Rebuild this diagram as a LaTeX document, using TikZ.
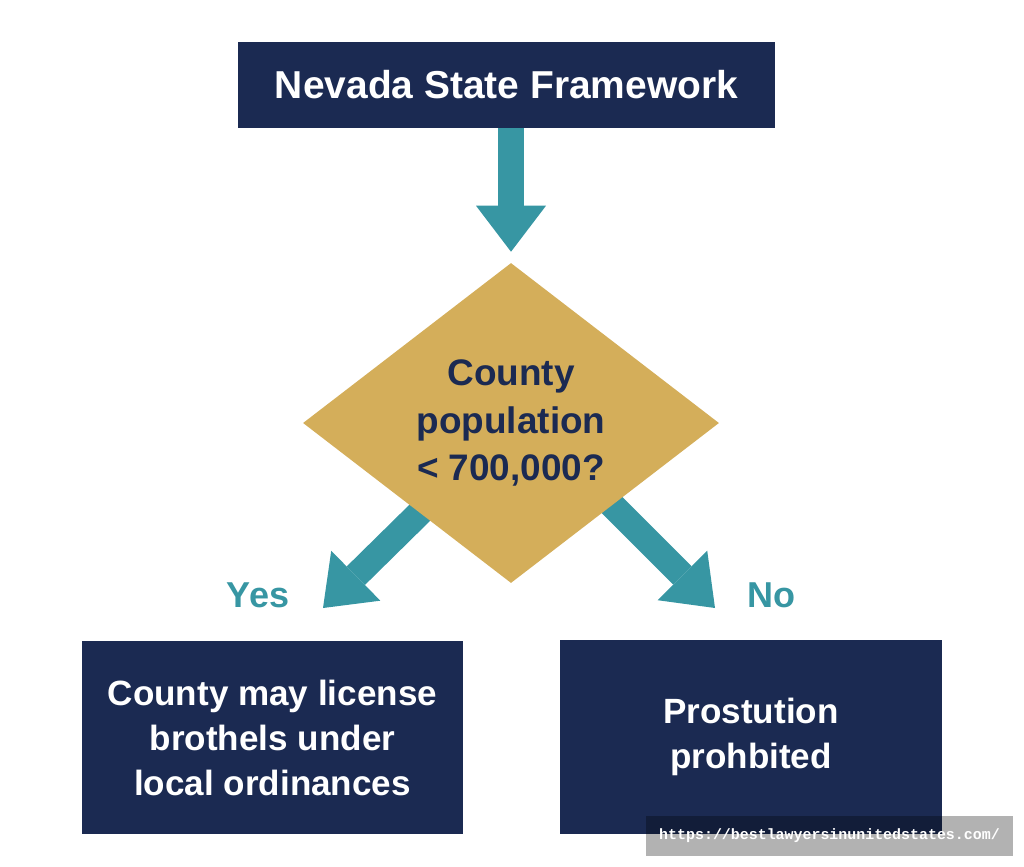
\documentclass[tikz,border=0pt]{standalone}
\usepackage{fontspec}
\setmainfont{Liberation Sans}
\newfontfamily\wmfont{Liberation Mono}
\usetikzlibrary{arrows.meta,shapes.geometric,backgrounds}
\definecolor{boxnavy}{HTML}{1B2A52}
\definecolor{flowteal}{HTML}{3796A3}
\definecolor{diagold}{HTML}{D4AE5A}
\tikzset{
	navybox/.style={fill=boxnavy, text=white, inner sep=0pt, align=center, font=\bfseries\fontsize{26.3}{33.75}\selectfont},
	flow/.style={draw=flowteal, line width=19.5pt, -{Triangle[width=52.5pt,length=34.5pt,line width=0pt]}},
	answer/.style={text=flowteal, inner sep=0pt, font=\bfseries\fontsize{27}{32}\selectfont}
}

\begin{document}
\begin{tikzpicture}[x=0.75pt,y=-0.75pt]
			%%%%% START %%%%%
			\useasboundingbox (0,0) rectangle (1024,867);
			
			\node[navybox, minimum width=402.75pt, minimum height=64.5pt, font=\bfseries\fontsize{29.2}{35}\selectfont] (frame) at (506.5,85) {Nevada State Framework};
			
			\node[diamond, aspect=1.3, fill=diagold, text=boxnavy, inner sep=0pt, minimum width=312pt, minimum height=240pt, align=center, font=\bfseries\fontsize{27.7}{35.6}\selectfont] (decide) at (511,423) {County\\population\\< 700,000?};
			
			\node[navybox, minimum width=285.75pt, minimum height=144.75pt] (yesbox) at (272.5,737.5) {County may license\\brothels under\\local ordinances};
			\node[navybox, minimum width=286.5pt, minimum height=145.5pt] (nobox) at (751,737) {Prostution\\prohbited};
			
			\node[answer] (yeslabel) at (258,595) {Yes};
			\node[answer] (nolabel) at (771,595) {No};
			
			\coordinate (yestip) at (323,608);
			\coordinate (notip) at (715,608);
			
			\begin{scope}[on background layer]
			\draw[flow, shorten >=8.25pt] (frame.south -| decide.north) -- (decide.north);
			\draw[flow] (decide.center) -- (yestip);
			\draw[flow] ([yshift=14.25pt]decide.center) -- (notip);
			\end{scope}
			
			\node[fill=black, fill opacity=0.3, text opacity=1, text=white, minimum width=275.25pt, minimum height=30pt, inner sep=0pt, font=\wmfont\bfseries\fontsize{11.2}{13}\selectfont] (wmark) at (829.5,836) {https://bestlawyersinunitedstates.com/};
			
			%%%%% END %%%%%
\end{tikzpicture}
\end{document}
